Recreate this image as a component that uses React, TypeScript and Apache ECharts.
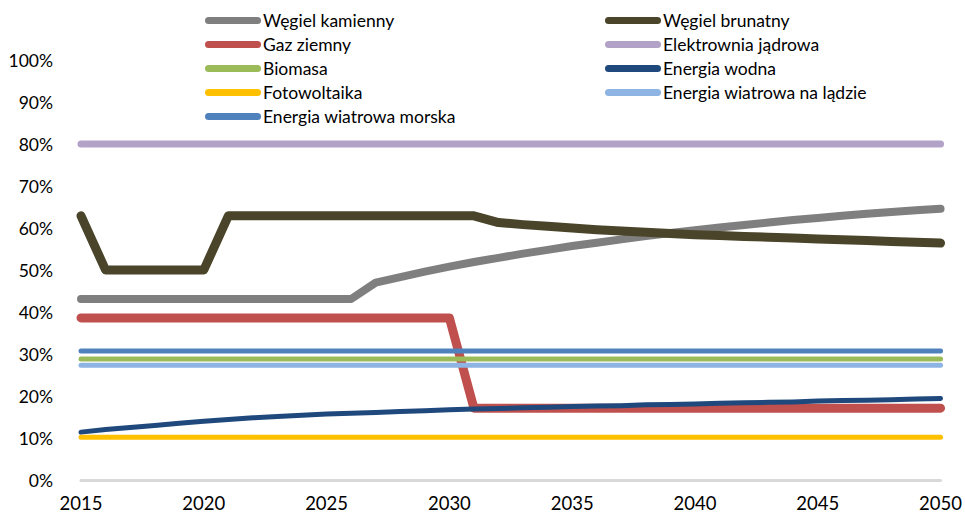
import React, { useEffect, useRef } from "react";
import * as echarts from "echarts";

const years = [2015, 2016, 2017, 2018, 2019, 2020, 2021, 2022, 2023, 2024, 2025, 2026, 2027, 2028, 2029, 2030, 2031, 2032, 2033, 2034, 2035, 2036, 2037, 2038, 2039, 2040, 2041, 2042, 2043, 2044, 2045, 2046, 2047, 2048, 2049, 2050];

const wegielKamienny = [43.1, 43.1, 43.1, 43.1, 43.1, 43.1, 43.1, 43.1, 43.1, 43.1, 43.1, 43.1, 47.0, 48.3, 49.6, 50.8, 51.9, 52.9, 53.9, 54.8, 55.7, 56.5, 57.3, 58.1, 58.8, 59.5, 60.1, 60.7, 61.3, 61.9, 62.4, 62.9, 63.4, 63.8, 64.2, 64.6];
const wegielBrunatny = [62.9, 50, 50, 50, 50, 50, 62.9, 62.9, 62.9, 62.9, 62.9, 62.9, 62.9, 62.9, 62.9, 62.9, 62.9, 61.3, 60.8, 60.4, 60.0, 59.6, 59.3, 59.0, 58.7, 58.4, 58.2, 58.0, 57.8, 57.6, 57.4, 57.2, 57.0, 56.8, 56.6, 56.4];
const gazZiemny = [38.6, 38.6, 38.6, 38.6, 38.6, 38.6, 38.6, 38.6, 38.6, 38.6, 38.6, 38.6, 38.6, 38.6, 38.6, 38.6, 17.1, 17.1, 17.1, 17.1, 17.1, 17.1, 17.1, 17.1, 17.1, 17.1, 17.1, 17.1, 17.1, 17.1, 17.1, 17.1, 17.1, 17.1, 17.1, 17.1];
const jadrowa = [80, 80, 80, 80, 80, 80, 80, 80, 80, 80, 80, 80, 80, 80, 80, 80, 80, 80, 80, 80, 80, 80, 80, 80, 80, 80, 80, 80, 80, 80, 80, 80, 80, 80, 80, 80];
const biomasa = [28.8, 28.8, 28.8, 28.8, 28.8, 28.8, 28.8, 28.8, 28.8, 28.8, 28.8, 28.8, 28.8, 28.8, 28.8, 28.8, 28.8, 28.8, 28.8, 28.8, 28.8, 28.8, 28.8, 28.8, 28.8, 28.8, 28.8, 28.8, 28.8, 28.8, 28.8, 28.8, 28.8, 28.8, 28.8, 28.8];
const energiaWodna = [11.4, 12.0, 12.5, 13.0, 13.5, 14.0, 14.4, 14.8, 15.1, 15.4, 15.7, 15.9, 16.1, 16.3, 16.5, 16.7, 16.9, 17.0, 17.2, 17.3, 17.5, 17.6, 17.7, 17.9, 18.0, 18.1, 18.3, 18.4, 18.5, 18.6, 18.8, 18.9, 19.0, 19.1, 19.3, 19.4];
const fotowoltaika = [10.2, 10.2, 10.2, 10.2, 10.2, 10.2, 10.2, 10.2, 10.2, 10.2, 10.2, 10.2, 10.2, 10.2, 10.2, 10.2, 10.2, 10.2, 10.2, 10.2, 10.2, 10.2, 10.2, 10.2, 10.2, 10.2, 10.2, 10.2, 10.2, 10.2, 10.2, 10.2, 10.2, 10.2, 10.2, 10.2];
const wiatrowaLad = [27.3, 27.3, 27.3, 27.3, 27.3, 27.3, 27.3, 27.3, 27.3, 27.3, 27.3, 27.3, 27.3, 27.3, 27.3, 27.3, 27.3, 27.3, 27.3, 27.3, 27.3, 27.3, 27.3, 27.3, 27.3, 27.3, 27.3, 27.3, 27.3, 27.3, 27.3, 27.3, 27.3, 27.3, 27.3, 27.3];
const wiatrowaMorska = [30.7, 30.7, 30.7, 30.7, 30.7, 30.7, 30.7, 30.7, 30.7, 30.7, 30.7, 30.7, 30.7, 30.7, 30.7, 30.7, 30.7, 30.7, 30.7, 30.7, 30.7, 30.7, 30.7, 30.7, 30.7, 30.7, 30.7, 30.7, 30.7, 30.7, 30.7, 30.7, 30.7, 30.7, 30.7, 30.7];

const seriesDefs = [
  { name: "Węgiel kamienny", data: wegielKamienny, color: "#7f7f7f", width: 8 },
  { name: "Węgiel brunatny", data: wegielBrunatny, color: "#4a452a", width: 9 },
  { name: "Gaz ziemny", data: gazZiemny, color: "#c0504d", width: 9 },
  { name: "Elektrownia jądrowa", data: jadrowa, color: "#b3a2c7", width: 7 },
  { name: "Biomasa", data: biomasa, color: "#9bbb59", width: 5 },
  { name: "Energia wodna", data: energiaWodna, color: "#1f497d", width: 5 },
  { name: "Fotowoltaika", data: fotowoltaika, color: "#ffc000", width: 5 },
  { name: "Energia wiatrowa na lądzie", data: wiatrowaLad, color: "#8eb4e3", width: 5 },
  { name: "Energia wiatrowa morska", data: wiatrowaMorska, color: "#4f81bd", width: 5 },
];

const legendLeft = ["Węgiel kamienny", "Gaz ziemny", "Biomasa", "Fotowoltaika", "Energia wiatrowa morska"];
const legendRight = ["Węgiel brunatny", "Elektrownia jądrowa", "Energia wodna", "Energia wiatrowa na lądzie"];

const FONT = "Lato, 'Open Sans', sans-serif";
const CAPSULE = "path://M3.5,0 L52.5,0 A3.5,3.5 0 0 1 52.5,7 L3.5,7 A3.5,3.5 0 0 1 3.5,0 Z";

export default function App() {
  const ref = useRef<HTMLDivElement>(null);
  useEffect(() => {
    if (!ref.current) return;
    const chart = echarts.init(ref.current, undefined, { renderer: "svg" });
    const legendCommon = {
      orient: "vertical",
      icon: CAPSULE,
      itemWidth: 56,
      itemHeight: 7,
      itemGap: 5,
      padding: 0,
      textStyle: { fontFamily: FONT, fontSize: 17.5, color: "#000", padding: [0, 0, 0, -3], lineHeight: 19 },
      selectedMode: false,
    };
    chart.setOption({
      animation: false,
      backgroundColor: "#ffffff",
      legend: [
        { ...legendCommon, left: 205, top: 11, data: legendLeft },
        { ...legendCommon, left: 605, top: 11, data: legendRight },
      ],
      grid: { left: 81, right: 20, top: 60, bottom: 36, containLabel: false },
      xAxis: {
        type: "value",
        min: 2015,
        max: 2050,
        interval: 5,
        axisLine: { show: true, lineStyle: { color: "#d9d9d9", width: 3 } },
        axisTick: { show: false },
        splitLine: { show: false },
        axisLabel: { fontFamily: FONT, fontSize: 18.5, color: "#000", margin: 13, formatter: (v: number) => String(v) },
      },
      yAxis: {
        type: "value",
        min: 0,
        max: 100,
        interval: 10,
        axisLine: { show: false },
        axisTick: { show: false },
        splitLine: { show: false },
        axisLabel: { fontFamily: FONT, fontSize: 17.5, color: "#000", margin: 28, formatter: "{value}%" },
      },
      series: seriesDefs.map((s) => ({
        name: s.name,
        type: "line",
        symbol: "none",
        data: years.map((y, i) => [y, s.data[i]]),
        color: s.color,
        lineStyle: { color: s.color, width: s.width, cap: "round", join: "round" },
      })),
    });
    return () => chart.dispose();
  }, []);
  return <div ref={ref} style={{ position: "absolute", left: 0, top: 0, width: 965, height: 516 }} />;
}
